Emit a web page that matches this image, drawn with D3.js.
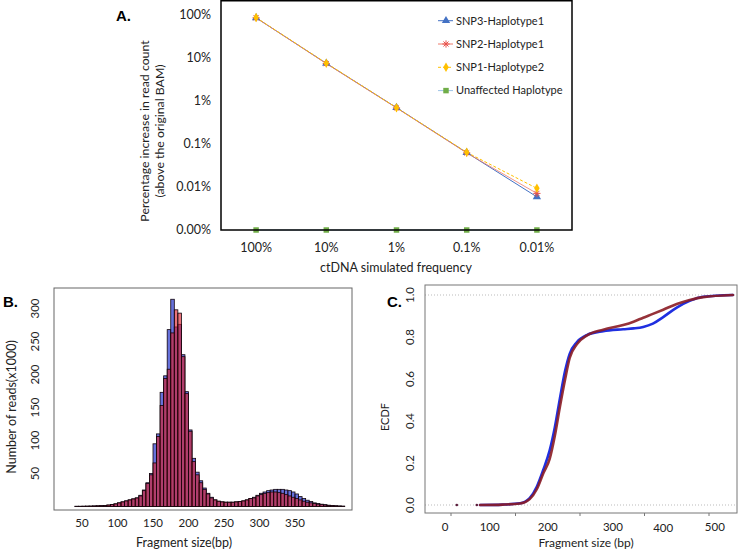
<!DOCTYPE html>
<html>
<head>
<meta charset="utf-8">
<script src="https://cdn.jsdelivr.net/npm/d3@7"></script>
<style>
  body { margin: 0; background: #fff; }
  svg { display: block; font-family: Lato, "Open Sans", sans-serif; }
  .panel-tag { font-family: "Liberation Sans", Arial, sans-serif; font-weight: bold; font-size: 15px; }
</style>
</head>
<body>
<div class="chart"></div>
<script>
const width = 740;
const height = 549;

// ---- panel A data (percent) ----
const freqLabels = ['100%', '10%', '1%', '0.1%', '0.01%'];
const snp3 = [86, 7.5, 0.70, 0.063, 0.0059];
const snp2 = [86, 7.4, 0.69, 0.062, 0.0071];
const snp1 = [87, 7.6, 0.70, 0.064, 0.0093];
const unaffected = [0, 0, 0, 0, 0];
const yTicksA = [100, 10, 1, 0.1, 0.01, 0.001];
const yTickLabelsA = ['100%', '10%', '1%', '0.1%', '0.01%', '0.00%'];
const legendA = ['SNP3-Haplotype1', 'SNP2-Haplotype1', 'SNP1-Haplotype2', 'Unaffected Haplotype'];

// ---- panel B data (reads x1000 per 5bp bin) ----
const binStart = [40, 45, 50, 55, 60, 65, 70, 75, 80, 85, 90, 95, 100, 105, 110, 115, 120, 125, 130, 135,
  140, 145, 150, 155, 160, 165, 170, 175, 180, 185, 190, 195, 200, 205, 210, 215, 220, 225, 230, 235,
  240, 245, 250, 255, 260, 265, 270, 275, 280, 285, 290, 295, 300, 305, 310, 315, 320, 325, 330, 335,
  340, 345, 350, 355, 360, 365, 370, 375, 380, 385, 390, 395, 400, 405, 410, 415];
const readsBlue = [0.3, 0.3, 0.4, 0.5, 0.6, 0.8, 1, 1.2, 1.6, 2.2, 3, 4, 5.5, 7, 8.5, 10, 11.5, 13, 17, 25,
  36, 50, 95, 110, 173, 198, 268, 314, 272, 276, 230, 174, 116, 73, 52, 39, 28, 20, 14, 10,
  8, 7, 6.5, 6.5, 6.5, 7, 7.5, 8.5, 10, 12, 14, 17, 20, 22, 24, 25, 26, 26, 26, 25,
  24, 22, 19, 15, 12, 9.5, 7.5, 5.5, 4.5, 3.5, 2.8, 2, 1.5, 1.1, 0.8, 0.5];
const readsRed = [0.3, 0.3, 0.4, 0.5, 0.6, 0.8, 1, 1.2, 1.6, 2.2, 3, 4, 5.5, 7, 8.5, 10, 11.5, 13, 16, 24,
  35, 48, 66, 106, 153, 194, 208, 263, 298, 293, 227, 171, 114, 68, 48, 36, 26, 19, 13, 10,
  8, 7, 6.5, 6.5, 6.5, 7, 7.5, 8.5, 10, 12, 13, 16, 18, 20, 21, 22, 22, 21, 20, 18,
  16, 14, 12, 10, 8, 6.5, 5.5, 4.5, 3.5, 2.8, 2.2, 1.6, 1.2, 0.9, 0.6, 0.4];
const xTicksB = [50, 100, 150, 200, 250, 300, 350];
const yTicksB = [50, 100, 150, 200, 250, 300];

// ---- panel C data (ECDF) ----
const sizeC = [45, 80, 107, 122, 133, 143, 153, 161, 169, 177, 184, 195, 211, 236, 267, 283, 298, 313, 329, 350, 370, 391, 437];
const ecdfBlue = [0, 0.002, 0.008, 0.033, 0.087, 0.167, 0.26, 0.37, 0.51, 0.64, 0.72, 0.775, 0.81, 0.828, 0.837, 0.841, 0.848, 0.864, 0.895, 0.94, 0.972, 0.992, 1.0];
const ecdfRed = [0, 0.002, 0.007, 0.028, 0.075, 0.15, 0.22, 0.33, 0.47, 0.6, 0.7, 0.765, 0.808, 0.835, 0.857, 0.873, 0.892, 0.91, 0.93, 0.957, 0.976, 0.99, 1.0];
const strayC = [9, 40];
const xTicksC = [0, 100, 200, 300, 400];
const xLabelsC = ['0', '100', '200', '300', '400', '500'];
const xLabelAtC = [-9, 60, 150, 251, 329, 409];  // where the labels sit in the figure
const yTicksC = [0, 0.2, 0.4, 0.6, 0.8, 1.0];

const svg = d3.select('.chart').append('svg')
  .attr('width', width).attr('height', height);

// ================= Panel A =================
const boxA = {x0: 221, x1: 572, y0: 0.75, y1: 230};
const xA = d3.scaleBand().domain(freqLabels).range([boxA.x0, boxA.x1]);
const yA = d3.scaleLog().domain([0.001, 100]).range([230, 15]);
const yFloor = 0.001;
const cx = (d, i) => xA(freqLabels[i]) + xA.bandwidth() / 2;
const cy = v => yA(Math.max(v, yFloor));

const gA = svg.append('g');

gA.selectAll('.ytA').data(yTicksA).enter().append('text')
  .attr('x', 211).attr('y', d => yA(d)).attr('dy', '0.35em')
  .attr('text-anchor', 'end').attr('font-size', 12.5).attr('fill', '#222')
  .text((d, i) => yTickLabelsA[i]);

gA.selectAll('.xtA').data(freqLabels).enter().append('text')
  .attr('x', d => xA(d) + xA.bandwidth() / 2).attr('y', 252)
  .attr('text-anchor', 'middle').attr('font-size', 12.5).attr('fill', '#222')
  .text(d => d);

gA.append('text').attr('x', 396).attr('y', 272).attr('text-anchor', 'middle')
  .attr('font-size', 12.5).attr('fill', '#222').text('ctDNA simulated frequency');

gA.append('text').attr('transform', 'translate(149,131) rotate(-90)')
  .attr('text-anchor', 'middle').attr('font-size', 12.3).attr('fill', '#222')
  .text('Percentage increase in read count');
gA.append('text').attr('transform', 'translate(164,131) rotate(-90)')
  .attr('text-anchor', 'middle').attr('font-size', 12.3).attr('fill', '#222')
  .text('(above the original BAM)');

gA.append('text').attr('class', 'panel-tag').attr('x', 116).attr('y', 21).text('A.');

const lineA = d3.line().x(cx).y(d => cy(d));

const seriesA = [
  {name: legendA[3], vals: unaffected, color: '#70AD47', line: '#9DC3E6', dash: null, sym: 'square'},
  {name: legendA[0], vals: snp3, color: '#4472C4', line: '#4472C4', dash: null, sym: 'triangle'},
  {name: legendA[1], vals: snp2, color: '#E8504A', line: '#EE7A6A', dash: null, sym: 'star'},
  {name: legendA[2], vals: snp1, color: '#FFC000', line: '#FFC000', dash: '3,2', sym: 'diamond'}
];

const asterisk = r => {
  const k = r * 0.7;
  return `M${-r},0L${r},0M0,${-r}L0,${r}M${-k},${-k}L${k},${k}M${-k},${k}L${k},${-k}`;
};
const markerPath = sym => {
  if (sym === 'triangle') return d3.symbol(d3.symbolTriangle, 30)();
  if (sym === 'diamond') return d3.symbol(d3.symbolDiamond, 26)();
  if (sym === 'square') return d3.symbol(d3.symbolSquare, 30)();
  return asterisk(3.6);
};
const drawMarker = (sel, s) => {
  sel.attr('d', markerPath(s.sym));
  if (s.sym === 'star') sel.attr('fill', 'none').attr('stroke', s.color).attr('stroke-width', 1);
  else sel.attr('fill', s.color).attr('stroke', 'none');
};

seriesA.forEach(s => {
  gA.append('path').datum(s.vals).attr('d', lineA)
    .attr('fill', 'none').attr('stroke', s.line).attr('stroke-width', s.sym === 'star' ? 0.8 : 1)
    .attr('stroke-dasharray', s.dash);
});
seriesA.forEach(s => {
  gA.selectAll(null).data(s.vals).enter().append('path')
    .attr('transform', (d, i) => `translate(${cx(d, i)},${cy(d)})`)
    .each(function () { drawMarker(d3.select(this), s); });
});

gA.append('rect').attr('x', boxA.x0).attr('y', boxA.y0)
  .attr('width', boxA.x1 - boxA.x0).attr('height', boxA.y1 - boxA.y0)
  .attr('fill', 'none').attr('stroke', '#000').attr('stroke-width', 1.5);

// legend
const legOrder = [seriesA[1], seriesA[2], seriesA[3], seriesA[0]];
const leg = gA.selectAll('.legA').data(legOrder).enter().append('g')
  .attr('transform', (d, i) => `translate(446,${20.7 + i * 23.3})`);
leg.append('line').attr('x1', -8).attr('x2', 7)
  .attr('stroke', d => d.line).attr('stroke-width', 1)
  .attr('stroke-dasharray', d => d.dash);
leg.append('path').each(function (d) { drawMarker(d3.select(this), d); });
leg.append('text').attr('x', 10).attr('dy', '0.35em').attr('font-size', 11).attr('fill', '#222')
  .text(d => d.name);

// ================= Panel B =================
const xB = d3.scaleLinear().domain([0, 420]).range([46.5, 46.5 + 0.71 * 420]);
const yB = d3.scaleLinear().domain([0, 330]).range([506.5, 506.5 - 0.66 * 330]);
const gB = svg.append('g');

const drawBars = (vals, fill) => {
  gB.selectAll(null).data(binStart).enter().append('rect')
    .attr('x', d => xB(d)).attr('width', d => xB(d + 5) - xB(d))
    .attr('y', (d, i) => yB(vals[i])).attr('height', (d, i) => yB(0) - yB(vals[i]))
    .attr('fill', fill).attr('stroke', '#12040c').attr('stroke-width', 0.8);
};
drawBars(readsBlue, 'rgba(30,45,200,0.68)');
drawBars(readsRed, 'rgba(220,30,40,0.62)');

gB.append('rect').attr('x', 54).attr('y', 288).attr('width', 298).attr('height', 222)
  .attr('fill', 'none').attr('stroke', '#666').attr('stroke-width', 1);

gB.selectAll('.ytB').data(yTicksB).enter().append('text')
  .attr('transform', d => `translate(39,${yB(d)}) rotate(-90)`)
  .attr('text-anchor', 'middle').attr('font-size', 11.5).attr('fill', '#222')
  .text(d => d);
gB.selectAll('.xtB').data(xTicksB).enter().append('text')
  .attr('x', d => xB(d)).attr('y', 527)
  .attr('text-anchor', 'middle').attr('font-size', 11.5).attr('fill', '#222')
  .text(d => d);
gB.append('text').attr('x', 184).attr('y', 547).attr('text-anchor', 'middle')
  .attr('font-size', 12.5).attr('fill', '#222').text('Fragment size(bp)');
gB.append('text').attr('transform', 'translate(16,407) rotate(-90)')
  .attr('text-anchor', 'middle').attr('font-size', 12.5).attr('fill', '#222')
  .text('Number of reads(x1000)');
gB.append('text').attr('class', 'panel-tag').attr('x', 3).attr('y', 307).text('B.');

// ================= Panel C =================
const xC = d3.scaleLinear().domain([0, 400]).range([451, 709]);
const yC = d3.scaleLinear().domain([0, 1]).range([505, 295]);
const gC = svg.append('g');

[0, 1].forEach(v => {
  gC.append('line').attr('x1', 425).attr('x2', 737).attr('y1', yC(v)).attr('y2', yC(v))
    .attr('stroke', '#bbb').attr('stroke-width', 1).attr('stroke-dasharray', '1,2');
});

const lineC = vals => d3.line().curve(d3.curveMonotoneX)
  .x((d, i) => xC(sizeC[i])).y((d, i) => yC(vals[i]))(vals);

gC.append('path').attr('d', lineC(ecdfBlue)).attr('fill', 'none')
  .attr('stroke', '#1f2fe0').attr('stroke-width', 2.6).attr('stroke-linecap', 'round');
gC.append('path').attr('d', lineC(ecdfRed)).attr('fill', 'none')
  .attr('stroke', '#8b1c24').attr('stroke-width', 2.6).attr('stroke-linecap', 'round')
  .attr('opacity', 0.9);
gC.selectAll('.strayC').data(strayC).enter().append('circle')
  .attr('cx', d => xC(d)).attr('cy', yC(0)).attr('r', 1.3).attr('fill', '#5a1a3a');

gC.append('rect').attr('x', 425).attr('y', 285).attr('width', 312).attr('height', 228)
  .attr('fill', 'none').attr('stroke', '#777').attr('stroke-width', 1);

gC.selectAll('.tickC').data(xTicksC).enter().append('line')
  .attr('x1', d => xC(d)).attr('x2', d => xC(d)).attr('y1', 513).attr('y2', 516)
  .attr('stroke', '#777');
gC.selectAll('.xtC').data(xLabelsC).enter().append('text')
  .attr('x', (d, i) => xC(xLabelAtC[i])).attr('y', (d, i) => i === 4 ? 532 : 530.5)
  .attr('text-anchor', 'middle').attr('font-size', 11.5).attr('fill', '#222')
  .text(d => d);
gC.selectAll('.ytC').data(yTicksC).enter().append('text')
  .attr('transform', d => `translate(414,${yC(d)}) rotate(-90)`)
  .attr('text-anchor', 'middle').attr('font-size', 11.5).attr('fill', '#222')
  .text(d => d.toFixed(1));
gC.append('text').attr('x', 586).attr('y', 547).attr('text-anchor', 'middle')
  .attr('font-size', 12).attr('fill', '#222').text('Fragment size (bp)');
gC.append('text').attr('transform', 'translate(389,417) rotate(-90)')
  .attr('text-anchor', 'middle').attr('font-size', 11).attr('fill', '#222').text('ECDF');
gC.append('text').attr('class', 'panel-tag').attr('x', 387).attr('y', 307).text('C.');
</script>
</body>
</html>
